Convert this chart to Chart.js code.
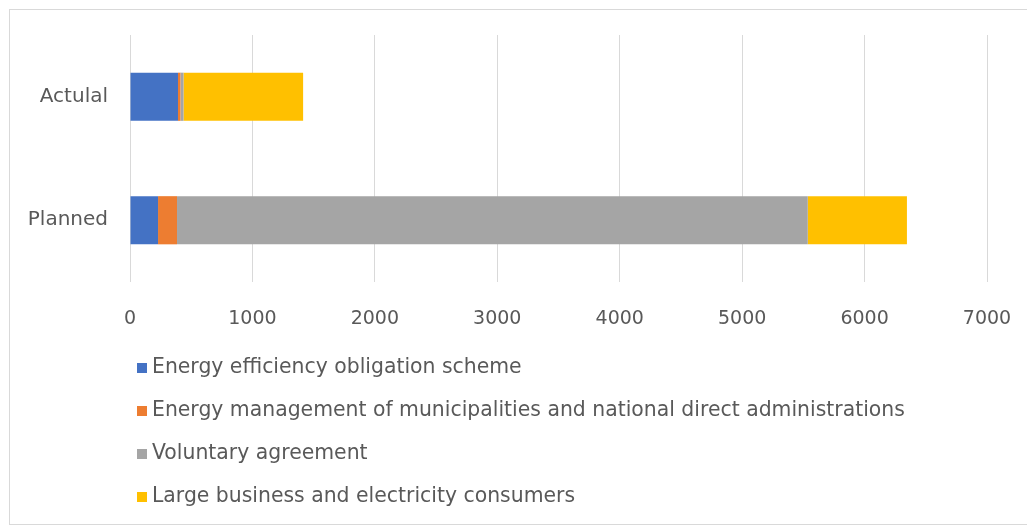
<!DOCTYPE html>
<html>
<head>
<meta charset="utf-8">
<script src="https://cdn.jsdelivr.net/npm/chart.js@4/dist/chart.umd.min.js"></script>
<style>
  html, body { margin: 0; padding: 0; background: #fff; }
  #frame { position: absolute; left: 0; top: 0; width: 1027px; height: 526px; overflow: hidden; }
  #box { position: absolute; left: 9px; top: 9px; width: 1040px; height: 516px; border: 1px solid #d9d9d9; box-sizing: border-box; }
  #chart { position: absolute; left: 0; top: 0; }
</style>
</head>
<body>
<div id="frame">
  <div id="box"></div>
  <canvas id="chart" width="1027" height="526"></canvas>
</div>
<script>
// Categories (top to bottom)
const categories = ['Actulal', 'Planned'];

// Series names
const seriesNames = [
  'Energy efficiency obligation scheme',
  'Energy management of municipalities and national direct administrations',
  'Voluntary agreement',
  'Large business and electricity consumers'
];

// Values per series, in category order [Actulal, Planned]
const obligationScheme = [392, 229];
const municipalities   = [20, 155];
const voluntary        = [25, 5152];
const largeBusiness    = [977, 810];

// Axis ticks
const xTicks = [0, 1000, 2000, 3000, 4000, 5000, 6000, 7000];

const seriesColors = ['#4472C4', '#ED7D31', '#A5A5A5', '#FFC000'];
const seriesValues = [obligationScheme, municipalities, voluntary, largeBusiness];

const FONT = 'DejaVu Sans';
const TEXT = '#595959';

// Vertical legend drawn under the plot, one entry per line
const stackedLegend = {
  id: 'stackedLegend',
  afterDraw(chart) {
    const ctx = chart.ctx;
    const area = chart.chartArea;
    ctx.save();
    ctx.font = '20.4px "' + FONT + '"';
    ctx.textBaseline = 'middle';
    ctx.textAlign = 'left';
    chart.data.datasets.forEach((ds, i) => {
      const cy = area.bottom + 86 + i * 43;
      const bx = area.left + 7;
      ctx.fillStyle = ds.backgroundColor;
      ctx.fillRect(bx, cy - 5, 10, 10);
      ctx.fillStyle = TEXT;
      ctx.fillText(ds.label, bx + 15, cy);
    });
    ctx.restore();
  }
};

new Chart(document.getElementById('chart'), {
  type: 'bar',
  data: {
    labels: categories,
    datasets: seriesNames.map((name, i) => ({
      label: name,
      data: seriesValues[i],
      backgroundColor: seriesColors[i],
      borderWidth: 0,
      barPercentage: 0.39,
      categoryPercentage: 1.0
    }))
  },
  options: {
    indexAxis: 'y',
    responsive: false,
    animation: false,
    layout: { padding: { left: 10, right: 40, top: 35, bottom: 200 } },
    plugins: {
      legend: { display: false },
      tooltip: { enabled: false }
    },
    scales: {
      x: {
        stacked: true,
        min: 0,
        max: 7000,
        afterBuildTicks: (axis) => { axis.ticks = xTicks.map(v => ({ value: v })); },
        afterFit: (axis) => {
          axis.height = 44;
          axis.paddingLeft = 0;
          axis.paddingRight = 0;
        },
        grid: { color: '#d9d9d9', lineWidth: 1, drawTicks: false },
        border: { display: false },
        ticks: {
          color: TEXT, font: { family: FONT, size: 19 }, padding: 26, maxRotation: 0,
          callback: (v) => String(v)
        }
      },
      y: {
        stacked: true,
        afterFit: (axis) => { axis.width = 120; },
        grid: { display: false, drawTicks: false },
        border: { display: false },
        ticks: { color: TEXT, font: { family: FONT, size: 20 }, padding: 22 }
      }
    }
  },
  plugins: [stackedLegend]
});
</script>
</body>
</html>
